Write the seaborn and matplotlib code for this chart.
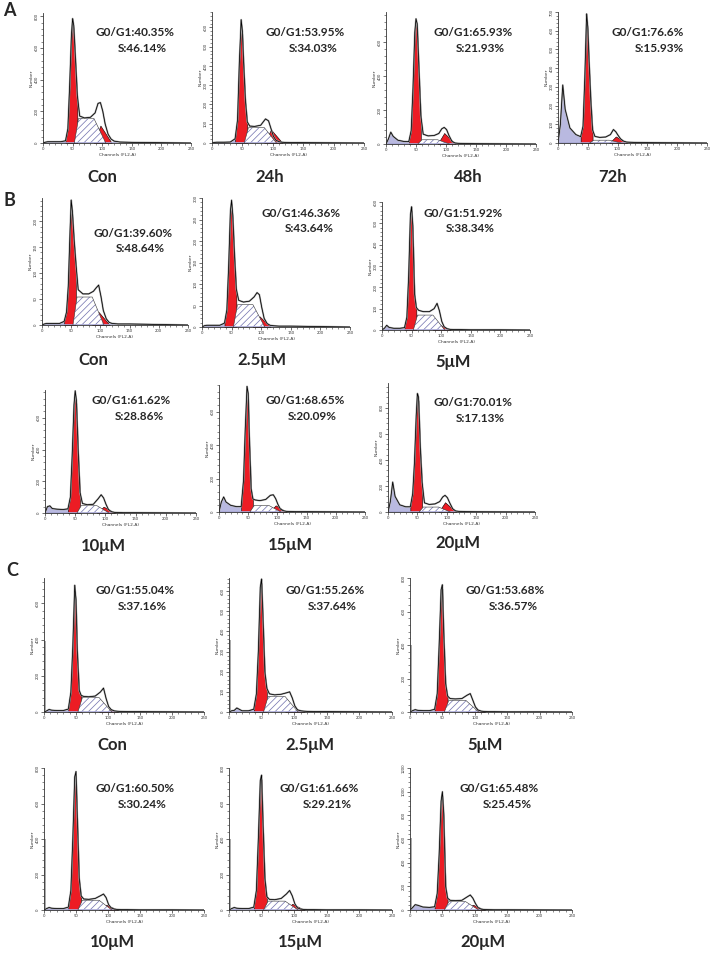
import numpy as np
import seaborn as sns
import matplotlib.pyplot as plt
from matplotlib.ticker import MultipleLocator, AutoMinorLocator

sns.set_theme(style="white")
plt.rcParams['font.family'] = ['Lato', 'DejaVu Sans']
plt.rcParams['hatch.linewidth'] = 0.5

W, H = 717, 956

# channel grid (FL2-A) shared by all histograms
CH = [0, 4, 8, 12, 20, 30, 38, 42, 45, 48, 50, 52, 55, 58, 62, 70, 80, 88, 93, 97, 101, 105, 110, 115, 120, 130, 150, 200, 250]

# total event counts
TOTAL_A_CON = [0, 5, 8, 8, 8, 8, 14, 90, 360, 680, 785, 740, 520, 300, 170, 158, 162, 190, 250, 255, 200, 120, 55, 25, 12, 6, 4, 2, 0]
TOTAL_A_24H = [0, 3, 4, 4, 4, 5, 22, 120, 420, 640, 580, 420, 220, 110, 88, 86, 92, 125, 115, 75, 35, 15, 7, 4, 3, 2, 2, 1, 0]
TOTAL_A_48H = [0, 30, 70, 45, 22, 15, 14, 80, 330, 660, 740, 710, 440, 170, 58, 48, 50, 62, 90, 98, 85, 50, 15, 6, 4, 3, 2, 1, 0]
TOTAL_A_72H = [0, 100, 310, 180, 80, 45, 34, 90, 350, 690, 620, 450, 230, 70, 35, 30, 32, 45, 72, 60, 40, 22, 10, 5, 4, 3, 2, 1, 0]
TOTAL_B_CON = [0, 2, 3, 3, 3, 3, 7, 25, 75, 180, 241, 220, 165, 120, 68, 60, 60, 65, 72, 77, 55, 28, 12, 5, 3, 2, 2, 1, 0]
TOTAL_B_2_5 = [0, 3, 4, 4, 4, 4, 9, 40, 140, 270, 295, 260, 165, 88, 62, 58, 60, 70, 80, 75, 45, 20, 8, 4, 3, 2, 2, 1, 0]
TOTAL_B_5 = [0, 8, 22, 12, 8, 8, 11, 60, 250, 540, 578, 490, 170, 105, 92, 86, 86, 100, 125, 90, 40, 15, 6, 3, 2, 2, 1, 1, 0]
TOTAL_B_10 = [0, 40, 45, 28, 24, 22, 26, 100, 360, 680, 770, 710, 390, 130, 60, 52, 55, 90, 115, 95, 55, 22, 8, 4, 3, 2, 2, 1, 0]
TOTAL_B_15 = [0, 60, 90, 60, 40, 32, 32, 190, 500, 752, 710, 440, 140, 78, 72, 68, 75, 100, 103, 80, 45, 18, 8, 4, 3, 2, 2, 1, 0]
TOTAL_B_20 = [0, 80, 230, 120, 55, 40, 40, 140, 380, 740, 910, 880, 490, 230, 70, 58, 62, 80, 115, 128, 110, 70, 25, 8, 5, 3, 2, 1, 0]
TOTAL_C_CON = [0, 6, 14, 10, 8, 8, 16, 110, 360, 700, 620, 340, 120, 92, 86, 84, 88, 110, 132, 75, 30, 13, 6, 4, 3, 2, 2, 1, 0]
TOTAL_C_2_5 = [0, 6, 8, 20, 6, 6, 14, 90, 300, 620, 660, 480, 200, 118, 90, 85, 88, 95, 100, 70, 30, 11, 6, 4, 3, 2, 2, 1, 0]
TOTAL_C_5 = [0, 8, 14, 10, 8, 8, 16, 110, 400, 730, 760, 480, 170, 95, 80, 78, 80, 100, 110, 70, 30, 12, 5, 3, 2, 2, 1, 1, 0]
TOTAL_C_10 = [0, 8, 14, 10, 8, 8, 16, 110, 400, 750, 780, 530, 180, 80, 62, 60, 65, 80, 90, 70, 30, 12, 5, 3, 2, 2, 1, 1, 0]
TOTAL_C_15 = [0, 8, 14, 10, 8, 8, 16, 110, 400, 730, 760, 510, 180, 75, 60, 58, 65, 90, 110, 80, 35, 12, 5, 3, 2, 2, 1, 1, 0]
TOTAL_C_20 = [0, 20, 45, 40, 25, 22, 27, 140, 470, 920, 1000, 820, 200, 100, 82, 79, 82, 110, 127, 100, 55, 20, 7, 4, 3, 2, 2, 1, 0]

TOTALS = [TOTAL_A_CON, TOTAL_A_24H, TOTAL_A_48H, TOTAL_A_72H,
          TOTAL_B_CON, TOTAL_B_2_5, TOTAL_B_5, TOTAL_B_10, TOTAL_B_15, TOTAL_B_20,
          TOTAL_C_CON, TOTAL_C_2_5, TOTAL_C_5, TOTAL_C_10, TOTAL_C_15, TOTAL_C_20]

# modelled S-phase plateau and G2/M peak heights
S_LEVEL = [155, 80, 25, 15, 54, 52, 70, 46, 38, 38, 80, 77, 70, 55, 50, 70]
G2_RED = [110, 70, 65, 35, 25, 25, 25, 40, 40, 75, 20, 15, 20, 30, 35, 45]
# gated first-bin bar in the C series
GATE = [0, 0, 0, 0, 0, 0, 0, 0, 0, 0, 392, 356, 400, 400, 400, 605]

YMAX = [820, 680, 780, 700, 245, 300, 600, 775, 760, 990, 740, 665, 800, 800, 800, 1200]
YSTEP = [200, 100, 200, 100, 50, 50, 100, 200, 200, 200, 200, 100, 200, 200, 200, 200]

LABELS = ['Con', '24h', '48h', '72h',
          'Con', '2.5μM', '5μM', '10μM', '15μM', '20μM',
          'Con', '2.5μM', '5μM', '10μM', '15μM', '20μM']
G1_TEXT = ['40.35%', '53.95%', '65.93%', '76.6%',
           '39.60%', '46.36%', '51.92%', '61.62%', '68.65%', '70.01%',
           '55.04%', '55.26%', '53.68%', '60.50%', '61.66%', '65.48%']
S_TEXT = ['46.14%', '34.03%', '21.93%', '15.93%',
          '48.64%', '43.64%', '38.34%', '28.86%', '20.09%', '17.13%',
          '37.16%', '37.64%', '36.57%', '30.24%', '29.21%', '25.45%']

S_CH = [53, 60, 86, 106]
G2_CH = [86, 97, 116]

# layout in pixels: axes box (left, top, right, bottom)
BOXES = [(43, 13, 191, 143), (212, 12, 364, 143), (386, 12, 536, 144), (558, 12, 707, 143),
         (42, 198, 188, 325), (202, 198, 350, 327), (382, 202, 530, 330),
         (45, 390, 196, 513), (219, 385, 365, 512), (388, 383, 535, 512),
         (44, 578, 204, 712), (229, 578, 392, 712), (410, 578, 572, 712),
         (44, 768, 204, 910), (229, 768, 392, 910), (410, 768, 572, 910)]
TXT_POS = [(95, 33), (266, 33), (433, 33), (612, 33),
           (93, 233), (262, 213), (423, 213),
           (92, 400), (265, 400), (433, 403),
           (95, 590), (285, 590), (466, 590),
           (95, 789), (280, 789), (460, 789)]
LAB_POS = [(102, 177), (270, 177), (468, 177), (613, 177),
           (93, 360), (262, 360), (453, 362),
           (103, 546), (290, 545), (458, 543),
           (112, 745), (310, 745), (485, 745),
           (112, 942), (300, 942), (483, 942)]

RED = '#ec1c24'
LAV = '#b9b9e0'
HATCH = '#6f6fae'

fig = plt.figure(figsize=(W / 100, H / 100), dpi=100)
ch = np.array(CH)

for i, total in enumerate(TOTALS):
    l, t, r, b = BOXES[i]
    ax = fig.add_axes([l / W, 1 - b / H, (r - l) / W, (b - t) / H])
    tot = np.array(total)

    # sub-G1 / debris
    m = ch <= 42
    ax.fill_between(ch[m], 0, tot[m], color=LAV, lw=0)
    ax.axhline(YMAX[i] * 0.005, xmin=0, xmax=0.5, color='#a9a9d6', lw=0.6)
    # G1 peak
    m = (ch >= 38) & (ch <= 58)
    ax.fill_between(ch[m], 0, tot[m] * 0.97, facecolor=RED, edgecolor='black', lw=0.4)
    # G2/M peak
    ax.fill_between(G2_CH, 0, [0, G2_RED[i], 0], facecolor=RED, edgecolor='black', lw=0.4)
    # S phase
    s = S_LEVEL[i]
    ax.fill_between(S_CH, 0, [0, s, s, 0], facecolor='white', edgecolor=HATCH,
                    hatch='/////', lw=0)
    ax.plot(S_CH, [0, s, s, 0], color='#333333', lw=0.4)
    if GATE[i] > 0:
        ax.vlines(2, 0, GATE[i], color='#9a9a9a', lw=1.2)

    sns.lineplot(x=ch, y=tot, ax=ax, color='#a8a8a8', lw=1.3, legend=False)
    sns.lineplot(x=ch, y=tot, ax=ax, color='black', lw=0.55, legend=False)

    ax.set_xlim(0, 250)
    ax.set_ylim(0, YMAX[i])
    ax.xaxis.set_major_locator(MultipleLocator(50))
    ax.xaxis.set_minor_locator(AutoMinorLocator(5))
    ax.yaxis.set_major_locator(MultipleLocator(YSTEP[i]))
    ax.yaxis.set_minor_locator(AutoMinorLocator(5))
    for sp in ['top', 'right']:
        ax.spines[sp].set_visible(False)
    for sp in ['left', 'bottom']:
        ax.spines[sp].set_linewidth(0.6)
        ax.spines[sp].set_color('#333333')
    ax.tick_params(which='major', direction='out', length=2.2, width=0.5, pad=1,
                   labelsize=3, colors='#333333', left=True, bottom=True)
    ax.tick_params(which='minor', direction='out', length=1.3, width=0.4,
                   colors='#333333', left=True, bottom=True)
    for lab in ax.get_yticklabels():
        lab.set_rotation(90)
        lab.set_va('center')
    ax.set_xlabel('Channels (FL2-A)', fontsize=3.2, labelpad=1, color='#333333',
                  family='DejaVu Sans')
    ax.set_ylabel('Number', fontsize=3.2, labelpad=1, color='#333333',
                  family='DejaVu Sans')
    ax.patch.set_alpha(0)

    tx, ty = TXT_POS[i]
    fig.text(tx / W, 1 - ty / H, 'G0/G1:' + G1_TEXT[i], fontsize=8.5,
             fontweight='bold', ha='left', va='center')
    fig.text((tx + 23) / W, 1 - (ty + 16) / H, 'S:' + S_TEXT[i], fontsize=8.5,
             fontweight='bold', ha='left', va='center')
    lx, ly = LAB_POS[i]
    fig.text(lx / W, 1 - ly / H, LABELS[i], fontsize=12, fontweight='bold',
             ha='center', va='center')

for letter, (px, py) in zip(['A', 'B', 'C'], [(9, 11), (9, 201), (12, 570)]):
    fig.text(px / W, 1 - py / H, letter, fontsize=13, fontweight='bold',
             ha='center', va='center')

fig.savefig('out.png', dpi=100)
